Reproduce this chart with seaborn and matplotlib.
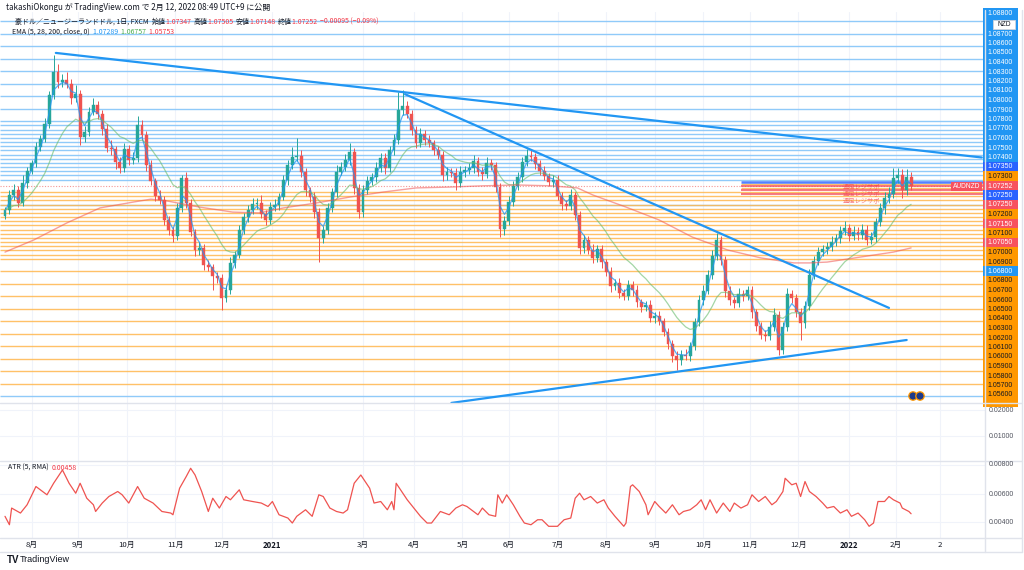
import numpy as np
import pandas as pd
import matplotlib
matplotlib.use("Agg")
import matplotlib.pyplot as plt
import seaborn as sns
from matplotlib.patches import Rectangle, Circle

# ---------------- data ----------------
start_date = "2020-07-16"
candle_step_days = 2          # one candle every two trading days
first_open = 1.0652
closes = [
    1.0667, 1.0703, 1.0715, 1.0684, 1.0732, 1.0761, 1.0780, 1.0818, 1.0837, 1.0873,
    1.0943, 1.0998, 1.0974, 1.0979, 1.0969, 1.0936, 1.0945, 1.0842, 1.0854, 1.0902,
    1.0919, 1.0897, 1.0861, 1.0816, 1.0813, 1.0782, 1.0768, 1.0813, 1.0787, 1.0792,
    1.0871, 1.0847, 1.0775, 1.0737, 1.0701, 1.0691, 1.0643, 1.0619, 1.0605, 1.0672,
    1.0744, 1.0684, 1.0614, 1.0571, 1.0576, 1.0535, 1.0530, 1.0509, 1.0504, 1.0456,
    1.0475, 1.0540, 1.0559, 1.0619, 1.0650, 1.0667, 1.0681, 1.0684, 1.0657, 1.0643,
    1.0674, 1.0679, 1.0698, 1.0739, 1.0775, 1.0794, 1.0797, 1.0758, 1.0715, 1.0698,
    1.0662, 1.0600, 1.0619, 1.0672, 1.0710, 1.0758, 1.0770, 1.0787, 1.0806, 1.0720,
    1.0662, 1.0715, 1.0737, 1.0746, 1.0768, 1.0792, 1.0768, 1.0811, 1.0835, 1.0907,
    1.0917, 1.0897, 1.0859, 1.0828, 1.0849, 1.0835, 1.0828, 1.0811, 1.0799, 1.0751,
    1.0758, 1.0756, 1.0732, 1.0758, 1.0763, 1.0768, 1.0785, 1.0758, 1.0753, 1.0780,
    1.0775, 1.0722, 1.0621, 1.0641, 1.0686, 1.0725, 1.0746, 1.0782, 1.0797, 1.0794,
    1.0777, 1.0761, 1.0749, 1.0734, 1.0739, 1.0701, 1.0681, 1.0677, 1.0703, 1.0655,
    1.0576, 1.0595, 1.0571, 1.0552, 1.0573, 1.0542, 1.0518, 1.0485, 1.0492, 1.0468,
    1.0461, 1.0487, 1.0475, 1.0446, 1.0434, 1.0439, 1.0408, 1.0413, 1.0401, 1.0374,
    1.0345, 1.0317, 1.0307, 1.0319, 1.0317, 1.0341, 1.0398, 1.0451, 1.0473, 1.0511,
    1.0557, 1.0595, 1.0547, 1.0473, 1.0451, 1.0444, 1.0465, 1.0461, 1.0475, 1.0422,
    1.0389, 1.0367, 1.0365, 1.0386, 1.0415, 1.0331, 1.0386, 1.0465, 1.0456, 1.0422,
    1.0396, 1.0437, 1.0511, 1.0545, 1.0566, 1.0573, 1.0578, 1.0590, 1.0600, 1.0617,
    1.0624, 1.0605, 1.0614, 1.0607, 1.0619, 1.0595, 1.0602, 1.0638, 1.0672, 1.0696,
    1.0705, 1.0744, 1.0751, 1.0715, 1.0746, 1.0725,
]
upper_wick_pips = [
    8, 12, 15, 9, 19, 10, 8, 12, 9, 14,
    10, 41, 20, 15, 18, 12, 22, 10, 14, 12,
    16, 9, 11, 13, 18, 8, 12, 15, 10, 14,
    22, 12, 9, 11, 8, 13, 10, 9, 7, 12,
    7, 15, 10, 8, 14, 9, 12, 8, 10, 9,
    12, 14, 10, 13, 9, 11, 15, 12, 18, 10,
    12, 14, 9, 13, 11, 25, 43, 15, 10, 8,
    12, 9, 10, 13, 11, 16, 12, 14, 22, 9,
    10, 13, 12, 9, 15, 11, 13, 10, 14, 43,
    38, 12, 10, 9, 14, 11, 12, 8, 10, 9,
    13, 10, 12, 15, 9, 11, 14, 10, 12, 13,
    9, 8, 10, 12, 14, 11, 13, 12, 16, 14,
    10, 9, 12, 8, 11, 13, 10, 9, 15, 8,
    10, 12, 9, 14, 11, 10, 8, 12, 9, 13,
    10, 12, 9, 11, 8, 10, 13, 9, 12, 8,
    10, 9, 11, 12, 14, 10, 9, 12, 15, 11,
    14, 18, 10, 9, 12, 8, 14, 11, 10, 9,
    8, 10, 12, 14, 16, 9, 13, 15, 11, 10,
    9, 12, 14, 11, 13, 10, 12, 15, 9, 11,
    16, 10, 14, 12, 15, 11, 13, 9, 12, 14,
    18, 24, 17, 15, 20, 12,
]
lower_wick_pips = [
    6, 10, 12, 9, 8, 11, 7, 10, 9, 8,
    10, 9, 14, 12, 10, 15, 9, 20, 11, 10,
    8, 12, 14, 10, 13, 16, 11, 9, 12, 10,
    9, 11, 14, 10, 12, 9, 13, 11, 15, 10,
    9, 12, 10, 14, 11, 13, 10, 34, 12, 29,
    10, 9, 11, 8, 10, 12, 9, 11, 10, 13,
    9, 10, 12, 8, 11, 9, 10, 12, 14, 11,
    13, 58, 12, 10, 9, 11, 8, 10, 12, 14,
    15, 11, 9, 10, 12, 10, 14, 9, 11, 10,
    12, 10, 11, 13, 9, 12, 10, 11, 9, 14,
    12, 10, 18, 9, 11, 10, 12, 9, 13, 10,
    11, 12, 18, 14, 10, 9, 11, 12, 10, 9,
    12, 10, 11, 9, 12, 10, 13, 11, 9, 12,
    14, 11, 10, 12, 9, 13, 10, 15, 11, 12,
    10, 9, 14, 11, 12, 10, 9, 13, 11, 10,
    12, 14, 24, 11, 10, 12, 9, 10, 11, 8,
    10, 9, 12, 14, 11, 13, 10, 12, 11, 14,
    12, 10, 13, 11, 10, 12, 9, 10, 12, 11,
    41, 12, 10, 9, 11, 10, 12, 9, 10, 11,
    9, 12, 10, 11, 9, 13, 10, 12, 9, 14,
    11, 10, 13, 18, 12, 10,
]

# fast EMAs (computed from closes, seeded at chart start)
ema_fast_periods = [5, 28]
ema_fast_start = [1.0660, 1.0667]
ema_fast_colors = ["#2196f3", "#66bb6a"]
# EMA 200 (trading-day index, value)
ema200_day = [0, 13, 28, 43, 58, 66, 73, 88, 103, 115, 126, 141, 156, 171, 186, 201,
              216, 232, 247, 259, 266, 281, 296, 311, 327, 342, 357, 364, 372, 387, 402, 410]
ema200_val = [1.0566, 1.0595, 1.0636, 1.0672, 1.0686, 1.0693, 1.0689, 1.0674, 1.0662, 1.0660,
              1.0672, 1.0684, 1.0698, 1.0710, 1.0720, 1.0722, 1.0725, 1.0727, 1.0725, 1.0720,
              1.0703, 1.0674, 1.0643, 1.0602, 1.0571, 1.0552, 1.0540, 1.0540, 1.0542, 1.0554,
              1.0566, 1.0576]
ema_header_values = ["1.07289", "1.06757", "1.05753"]

# ATR(5, RMA): trading-day index and value
atr_day = [0, 2, 3, 7, 10, 14, 17, 19, 22, 25, 26, 29, 32, 34, 37, 40, 41, 44, 47, 51,
           53, 56, 60, 63, 67, 71, 75, 76, 79, 82, 84, 86, 89, 92, 94, 97, 100, 102, 106, 108,
           112, 116, 119, 121, 124, 128, 130, 132, 136, 139, 142, 144, 147, 150, 153, 155, 158, 161, 162, 165,
           167, 170, 173, 175, 176, 177, 180, 182, 185, 188, 191, 193, 197, 201, 204, 207, 209, 214, 216, 219,
           222, 223, 225, 227, 230, 233, 235, 238, 241, 243, 246, 250, 253, 256, 258, 260, 262, 265, 268, 271,
           273, 276, 280, 281, 283, 284, 287, 290, 291, 294, 296, 299, 302, 305, 307, 310, 313, 315, 317, 319,
           322, 325, 328, 330, 333, 336, 338, 341, 344, 347, 349, 352, 353, 356, 358, 360, 362, 364, 367, 370,
           372, 375, 378, 381, 383, 386, 389, 391, 393, 395, 398, 400, 402, 405, 406, 409, 410]
atr_val = [0.00440, 0.00381, 0.00498, 0.00463, 0.00521, 0.00649, 0.00614, 0.00591, 0.00672, 0.00742,
           0.00765, 0.00672, 0.00602, 0.00672, 0.00567, 0.00521, 0.00474, 0.00533, 0.00579, 0.00614,
           0.00591, 0.00533, 0.00649, 0.00567, 0.00533, 0.00474, 0.00463, 0.00451, 0.00637, 0.00719,
           0.00777, 0.00730, 0.00614, 0.00474, 0.00567, 0.00498, 0.00579, 0.00556, 0.00626, 0.00556,
           0.00544, 0.00533, 0.00509, 0.00544, 0.00451, 0.00428, 0.00393, 0.00440, 0.00486, 0.00440,
           0.00591, 0.00579, 0.00498, 0.00474, 0.00463, 0.00486, 0.00672, 0.00730, 0.00707, 0.00637,
           0.00533, 0.00544, 0.00486, 0.00544, 0.00486, 0.00672, 0.00602, 0.00556, 0.00498, 0.00440,
           0.00393, 0.00393, 0.00474, 0.00451, 0.00498, 0.00521, 0.00509, 0.00451, 0.00498, 0.00451,
           0.00440, 0.00591, 0.00533, 0.00591, 0.00521, 0.00440, 0.00393, 0.00381, 0.00416, 0.00416,
           0.00370, 0.00370, 0.00416, 0.00428, 0.00567, 0.00602, 0.00556, 0.00579, 0.00533, 0.00556,
           0.00498, 0.00440, 0.00370, 0.00393, 0.00649, 0.00661, 0.00614, 0.00521, 0.00451, 0.00544,
           0.00509, 0.00463, 0.00521, 0.00451, 0.00474, 0.00486, 0.00521, 0.00556, 0.00486, 0.00556,
           0.00463, 0.00533, 0.00474, 0.00533, 0.00498, 0.00521, 0.00591, 0.00544, 0.00579, 0.00521,
           0.00544, 0.00614, 0.00707, 0.00661, 0.00672, 0.00579, 0.00684, 0.00614, 0.00579, 0.00533,
           0.00498, 0.00509, 0.00463, 0.00486, 0.00440, 0.00463, 0.00416, 0.00370, 0.00393, 0.00544,
           0.00544, 0.00579, 0.00556, 0.00533, 0.00498, 0.00474, 0.00458]

blue_levels = [1.112, 1.109, 1.106, 1.103, 1.100, 1.097, 1.094, 1.091,
               1.088, 1.087, 1.086, 1.085, 1.084, 1.083, 1.082, 1.081, 1.080,
               1.079, 1.078, 1.077, 1.076, 1.075, 1.074, 1.068, 1.022]
orange_levels = [1.071, 1.070, 1.069, 1.068, 1.067, 1.066, 1.065, 1.064, 1.063,
                 1.062, 1.061, 1.060, 1.059, 1.058, 1.057, 1.056, 1.055,
                 1.052, 1.049, 1.046, 1.043, 1.040, 1.037, 1.034, 1.031, 1.028, 1.025]
ray_start_day = 333
orange_ray_levels = [1.073, 1.072]
red_ray_levels = [1.0725, 1.0715, 1.0705]
blue_ray_level = 1.0735
ray_note = "週足レジサポ"

# trend lines: (day index, price) pairs
trend_lines = [
    [(23, 1.1044), (442, 1.0793)],
    [(181, 1.0945), (400, 1.0432)],
    [(202, 1.0204), (408, 1.0355)],
]

# right price-scale labels (top to bottom) and their kinds
label_prices = [1.088, 1.087, 1.086, 1.085, 1.084, 1.083, 1.082, 1.081, 1.080, 1.079,
                1.078, 1.077, 1.076, 1.075, 1.074, 1.0735, 1.073, 1.07252, 1.0725, 1.0725,
                1.072, 1.0715, 1.071, 1.0705, 1.070, 1.069, 1.068, 1.068, 1.067, 1.066,
                1.065, 1.064, 1.063, 1.062, 1.061, 1.060, 1.059, 1.058, 1.057, 1.056]
label_kinds = ["b"] * 15 + ["db", "o", "r", "db", "r", "o", "r", "o", "r", "o", "o", "b"] + ["o"] * 13

month_starts = ["2020-08-01", "2020-09-01", "2020-10-01", "2020-11-01", "2020-12-01", "2021-01-01",
                "2021-03-01", "2021-04-01", "2021-05-01", "2021-06-01", "2021-07-01", "2021-08-01",
                "2021-09-01", "2021-10-01", "2021-11-01", "2021-12-01", "2022-01-01", "2022-02-01",
                "2022-03-01"]
month_labels = ["8月", "9月", "10月", "11月", "12月", "2021", "3月", "4月", "5月", "6月", "7月",
                "8月", "9月", "10月", "11月", "12月", "2022", "2月", "2"]

header_top = "takashiOkongu が TradingView.com で 2月 12, 2022 08:49 UTC+9 に公開"
ohlc_labels = ["始値", "高値", "安値", "終値"]
ohlc_values = ["1.07347", "1.07505", "1.07148", "1.07252"]
change_text = "−0.00095 (−0.09%)"
symbol_text = "豪ドル／ニュージーランドドル, 1日, FXCM"
atr_value_text = "0.00458"

# ---------------- style ----------------
sns.set_theme(style="white")
JP = ["Noto Sans CJK JP", "DejaVu Sans"]
NUM = ["Liberation Sans", "DejaVu Sans"]
plt.rcParams["font.family"] = JP
W, H = 1024, 570
UP, DOWN = "#26a69a", "#ef5350"
GRID = "#f0f3fa"
BORDER = "#e0e3eb"
TXT = "#131722"
LEG_FS = 5.0

fig = plt.figure(figsize=(W / 100, H / 100), dpi=100)
fig.patch.set_facecolor("white")


def rect(x0, y0, x1, y1):
    return [x0 / W, 1 - y1 / H, (x1 - x0) / W, (y1 - y0) / H]


# x mapping: trading-day index, pixel = 5 + 2.21 * day
x_left = (0 - 5) / 2.21
x_right = (985 - 5) / 2.21

bdays = pd.bdate_range(start_date, "2022-03-31")
tick_pos = [int(bdays.searchsorted(pd.Timestamp(d))) for d in month_starts]

ax = fig.add_axes(rect(0, 12, 985, 403))
ax_mid = fig.add_axes(rect(0, 403, 985, 461))
ax_atr = fig.add_axes(rect(0, 461, 985, 538))

for a in (ax, ax_mid, ax_atr):
    a.set_xlim(x_left, x_right)
    a.set_facecolor("white")
    for s in a.spines.values():
        s.set_visible(False)
    a.set_yticks([])
    a.set_xticks([])
    for tp in tick_pos:
        a.axvline(tp, color=GRID, lw=0.8, zorder=0)

# ---- main pane ----
p_top = 1.1171 - 0.00024 * 12
p_bot = 1.1171 - 0.00024 * 403
ax.set_ylim(p_bot, p_top)

ax.hlines(blue_levels, x_left, x_right, color="#90caf9", lw=1.0, zorder=1)
ax.hlines(orange_levels, x_left, x_right, color="#ffb74d", lw=1.0, alpha=0.85, zorder=1)
ax.hlines(orange_ray_levels, ray_start_day, x_right, color="#ffb74d", lw=1.0, alpha=0.85, zorder=1)
ax.hlines(red_ray_levels, ray_start_day, x_right, color="#f23645", lw=1.1, alpha=0.85, zorder=2)
ax.hlines([blue_ray_level], ray_start_day, x_right, color="#2962ff", lw=1.8, alpha=0.8, zorder=2)
ax.hlines([closes[-1]], x_left, x_right, color="#ef5350", lw=0.8, ls=(0, (1, 1.5)), alpha=0.6, zorder=2)

# candles
opens = [first_open] + closes[:-1]
days = np.arange(len(closes)) * candle_step_days
for d, o, c, uw, lw_ in zip(days, opens, closes, upper_wick_pips, lower_wick_pips):
    col = UP if c >= o else DOWN
    hi = max(o, c) + uw * 1e-4
    lo = min(o, c) - lw_ * 1e-4
    ax.vlines(d, lo, hi, color=col, lw=0.7, zorder=4)
    body = abs(c - o) if abs(c - o) > 0.00008 else 0.00008
    ax.add_patch(Rectangle((d - 0.65, min(o, c)), 1.3, body, facecolor=col, edgecolor=col, lw=0.3, zorder=5))

# EMAs
for n, seed, colr, al in zip(ema_fast_periods, ema_fast_start, ema_fast_colors, [0.75, 0.6]):
    a_day = 2.0 / (n + 1)
    a_step = 1 - (1 - a_day) ** candle_step_days
    e = seed
    vals = []
    for c in closes:
        e = e + a_step * (c - e)
        vals.append(e)
    sns.lineplot(x=days, y=vals, color=colr, lw=0.9, alpha=al, ax=ax, zorder=6, legend=False)
sns.lineplot(x=ema200_day, y=ema200_val, color="#ef5350", lw=1.0, alpha=0.55, ax=ax, zorder=6, legend=False)

# trend lines
for (d0, p0), (d1, p1) in trend_lines:
    sns.lineplot(x=[d0, d1], y=[p0, p1], color="#2196f3", lw=1.6, ax=ax, zorder=7, legend=False)

ax.set_xlabel("")
ax.set_ylabel("")

# ---- middle (empty) pane ----
ax_mid.set_ylim(0.0004, 0.0227)
ax_mid.axhline(0.02, color=GRID, lw=0.8)
ax_mid.axhline(0.01, color=GRID, lw=0.8)

# ---- ATR pane ----
ax_atr.set_ylim(0.00288, 0.00828)
for v in (0.004, 0.006, 0.008):
    ax_atr.axhline(v, color=GRID, lw=0.8, zorder=0)
sns.lineplot(x=atr_day, y=atr_val, color="#ef5350", lw=0.9, ax=ax_atr, zorder=3, legend=False)
ax_atr.set_xlabel("")
ax_atr.set_ylabel("")
ax_atr.set_xticks([])

# ---------------- overlay in pixel coordinates ----------------
ov = fig.add_axes([0, 0, 1, 1], zorder=20)
ov.set_xlim(0, W)
ov.set_ylim(H, 0)
ov.axis("off")
ov.patch.set_alpha(0)

# pane borders
for yy in (403, 461, 538, 552):
    ov.plot([0, 1022], [yy, yy], color=BORDER, lw=1.0)
ov.plot([985, 985], [10, 552], color=BORDER, lw=1.0)
ov.plot([1022, 1022], [10, 552], color=BORDER, lw=1.0)

# time axis labels
for tp, lab in zip(tick_pos, month_labels):
    px = 5 + 2.21 * tp
    if px < 980:
        ov.text(px, 545, lab, ha="center", va="center", fontsize=5.6, color=TXT,
                fontweight="bold" if lab in ("2021", "2022") else "normal", family=JP)

# right price labels: first one sits above the currency badge, the rest stack downwards
kind_style = {"b": ("#2196f3", "white"), "db": ("#2962ff", "white"),
              "o": ("#ff9800", TXT), "r": ("#f7525f", "white")}
y_second, y_last = 34.0, 395.0
step = (y_last - y_second) / (len(label_prices) - 2)
label_y = [13.5] + [y_second + i * step for i in range(len(label_prices) - 1)]
ov.add_patch(Rectangle((983, 8), 35, 30, facecolor="#2196f3", edgecolor="none"))
for yy, pr, kd in zip(label_y, label_prices, label_kinds):
    bg, fg = kind_style[kd]
    ov.add_patch(Rectangle((983, yy - step / 2 - 0.3), 35, step + 0.6, facecolor=bg, edgecolor="none"))
    ov.text(1000.5, yy, f"{pr:.5f}", ha="center", va="center", fontsize=5, color=fg, family=NUM)
ov.add_patch(Rectangle((983, 395 + step / 2), 35, 7, facecolor="#ff9800", edgecolor="none"))

# NZD badge
ov.add_patch(Rectangle((993, 19.5), 22, 9.5, facecolor="white", edgecolor="#d1d4dc", lw=0.6))
ov.text(1004, 24.3, "NZD", ha="center", va="center", fontsize=4.8, color=TXT, family=NUM)

# AUDNZD badge
ov.add_patch(Rectangle((951, 182), 31, 9, facecolor="#f7525f", edgecolor="none"))
ov.text(966.5, 186.5, "AUDNZD", ha="center", va="center", fontsize=4.8, color="white", family=NUM)

# ray notes (three stacked red captions, drawn as one block)
ov.text(843, 193, "\n".join([ray_note] * 3), ha="left", va="center", fontsize=4.5,
        color="#f23645", alpha=0.65, family=JP, linespacing=0.85)

# indicator scale labels
for txt, yy in (("0.02000", 410), ("0.01000", 436), ("0.00800", 465), ("0.00600", 494), ("0.00400", 522)):
    ov.text(1001, yy, txt, ha="center", va="center", fontsize=5, color="#50535e", family=NUM)

# event icons
for cx in (913, 920):
    ov.add_patch(Circle((cx, 396), 4.2, facecolor="#1e3a8a", edgecolor="#ff9800", lw=0.9, zorder=5))
ov.text(916.5, 396.3, "D D", ha="center", va="center", fontsize=3.6, color="white", fontweight="bold")

# headers
ov.text(6, 7, header_top, ha="left", va="center", fontsize=5.8, color=TXT, family=JP)

fig.canvas.draw()
renderer = fig.canvas.get_renderer()


def advance(tobj):
    return tobj.get_window_extent(renderer).width


xcur = 15
t = ov.text(xcur, 22, symbol_text + "  ", ha="left", va="center", fontsize=LEG_FS, color=TXT, family=JP)
xcur += advance(t)
for lab, val in zip(ohlc_labels, ohlc_values):
    t = ov.text(xcur, 22, lab, ha="left", va="center", fontsize=LEG_FS, color=TXT, family=JP)
    xcur += advance(t)
    t = ov.text(xcur, 22, val + "  ", ha="left", va="center", fontsize=LEG_FS, color="#f23645", family=JP)
    xcur += advance(t)
ov.text(xcur, 22, change_text, ha="left", va="center", fontsize=LEG_FS, color="#f23645", family=JP)

xcur = 12
t = ov.text(xcur, 32, "EMA (5, 28, 200, close, 0)  ", ha="left", va="center", fontsize=LEG_FS, color=TXT, family=JP)
xcur += advance(t)
for val, colr in zip(ema_header_values, ["#2196f3", "#4caf50", "#f23645"]):
    t = ov.text(xcur, 32, val + "  ", ha="left", va="center", fontsize=LEG_FS, color=colr, family=JP)
    xcur += advance(t)

t = ov.text(8, 468, "ATR (5, RMA)  ", ha="left", va="center", fontsize=LEG_FS, color=TXT, family=JP)
ov.text(8 + advance(t), 468, atr_value_text, ha="left", va="center", fontsize=LEG_FS, color="#f23645", family=JP)

# footer logo
ov.text(7, 560, "TV", ha="left", va="center", fontsize=7, color=TXT, fontweight="bold", family=NUM)
ov.text(20, 560, "TradingView", ha="left", va="center", fontsize=6.5, color=TXT, family=NUM)

fig.savefig("out.png", dpi=100)
